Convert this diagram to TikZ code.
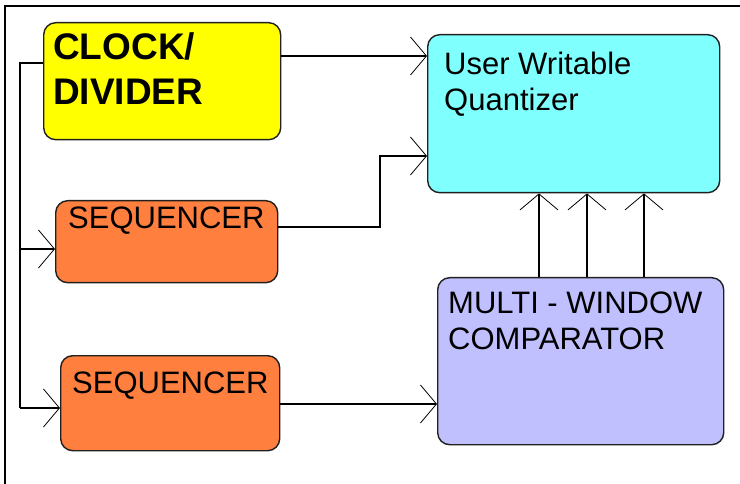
\documentclass[tikz,border=0pt]{standalone}
\usepackage{fontspec}
\setmainfont{Liberation Sans}
\usetikzlibrary{arrows.meta}
\definecolor{clkyellow}{HTML}{FFFF00}
\definecolor{seqorange}{HTML}{FF7F3F}
\definecolor{quantcyan}{HTML}{80FFFF}
\definecolor{complav}{HTML}{C0C0FF}
\definecolor{edgegray}{HTML}{202020}
\begin{document}
\begin{tikzpicture}[x=1pt,y=-1pt,
  blockbox/.style={draw=edgegray,line width=1.4pt,rounded corners=12pt,rectangle,anchor=north west,inner sep=0pt},
  blocktext/.style={anchor=north west,inner sep=0pt,align=left,text=black},
  bigfont/.style={font=\fontsize{37}{45}\selectfont\bfseries},
  midfont/.style={font=\fontsize{31}{36}\selectfont},
  wire/.style={line width=1.3pt,draw=black},
  arr/.style={wire,-{Straight Barb[length=16pt,width=38pt,line width=0.8pt]}}
]
\useasboundingbox (0,0) rectangle (740,484);
\fill[white] (0,0) rectangle (740,484);
% frame
\coordinate (ftl) at (5,6);
\coordinate (ftr) at (740,6);
\coordinate (fbl) at (5,484);
\draw[line width=1.3pt] (fbl) -- (ftl) -- (ftr);

% blocks
\node[blockbox,fill=clkyellow,minimum width=237pt,minimum height=117pt] (clk) at (43,22) {};
\node[blocktext,bigfont] (clkt) at (53,32) {CLOCK/\\DIVIDER};

\node[blockbox,fill=seqorange,minimum width=222pt,minimum height=82pt] (seqa) at (55,200) {};
\node[blocktext,midfont] (seqat) at (68,207) {SEQUENCER};

\node[blockbox,fill=seqorange,minimum width=219pt,minimum height=95pt] (seqb) at (60,355) {};
\node[blocktext,midfont] (seqbt) at (72,372) {SEQUENCER};

\node[blockbox,fill=quantcyan,minimum width=292pt,minimum height=158pt] (quant) at (427,34) {};
\node[blocktext,midfont] (quantt) at (444,52) {User Writable\\Quantizer};

\node[blockbox,fill=complav,minimum width=286pt,minimum height=167pt] (comp) at (437,277) {};
\node[blocktext,midfont] (compt) at (448,292) {MULTI - WINDOW\\COMPARATOR};

% wiring coordinates
\coordinate (busTop) at (20,63);
\coordinate (busA) at (20,249);
\coordinate (busB) at (20,408);
\coordinate (yClk) at (0,56);
\coordinate (ySeqA) at (0,227);
\coordinate (jogA) at (380,227);
\coordinate (jogB) at (380,156);
\coordinate (ySeqB) at (0,404);
\coordinate (xc1) at (539,0);
\coordinate (xc2) at (587,0);
\coordinate (xc3) at (644,0);

% bus from clock
\draw[wire] (clk.west |- busTop) -- (busTop) -- (busB);
\draw[arr] (busA) -- (seqa.west |- busA);
\draw[arr] (busB) -- (seqb.west |- busB);

% clock to quantizer
\draw[arr] (clk.east |- yClk) -- (quant.west |- yClk);
% sequencer A to quantizer
\draw[arr] (seqa.east |- ySeqA) -- (jogA) -- (jogB) -- (quant.west |- jogB);
% sequencer B to comparator
\draw[arr] (seqb.east |- ySeqB) -- (comp.west |- ySeqB);
% comparator to quantizer
\draw[arr] (comp.north -| xc1) -- (quant.south -| xc1);
\draw[arr] (comp.north -| xc2) -- (quant.south -| xc2);
\draw[arr] (comp.north -| xc3) -- (quant.south -| xc3);
\end{tikzpicture}
\end{document}
